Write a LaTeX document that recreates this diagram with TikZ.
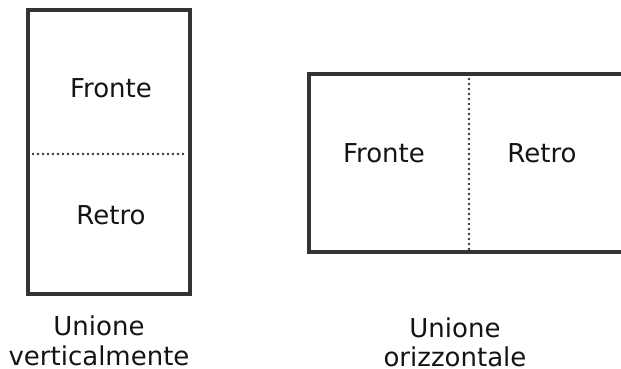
\documentclass[tikz,border=0pt]{standalone}
\usepackage{fontspec}
\setmainfont{DejaVu Sans}
\usepackage{xcolor}
\usetikzlibrary{calc}

\definecolor{framegray}{HTML}{333333}
\definecolor{textgray}{HTML}{141414}

\begin{document}
\begin{tikzpicture}[x=1pt,y=-1pt,line join=miter,
  frame/.style={line width=3.2pt,draw=framegray},
  fold/.style={line width=2.7pt,draw=framegray,line cap=round,dash pattern=on 0pt off 5pt},
  lbl/.style={text=textgray,font=\fontsize{26}{30}\selectfont,inner sep=0pt,anchor=base}]
  \useasboundingbox (0,0) rectangle (621,369);
  % vertical join
  \coordinate (VA) at (28,10);
  \coordinate (VB) at (190,294);
  \coordinate (VL) at (28,154);
  \coordinate (VR) at (190,154);
  \draw[frame] (VA) rectangle (VB);
  \draw[fold] ($(VL)+(5,0)$) -- ($(VR)+(-3,0)$);
  \node[lbl] (vfront) at (111,97) {Fronte};
  \node[lbl] (vback) at (111,224) {Retro};
  \node[lbl] (vcap1) at (99,335) {Unione};
  \node[lbl] (vcap2) at (99,365) {verticalmente};
  % horizontal join
  \coordinate (HA) at (309,74);
  \coordinate (HB) at (640,252);
  \coordinate (HT) at (469,74);
  \coordinate (HD) at (469,252);
  \draw[frame] (HA) rectangle (HB);
  \draw[fold] ($(HT)+(0,5)$) -- ($(HD)+(0,-3)$);
  \node[lbl] (hfront) at (384,162) {Fronte};
  \node[lbl] (hback) at (542,162) {Retro};
  \node[lbl] (hcap1) at (455,337) {Unione};
  \node[lbl] (hcap2) at (455,366) {orizzontale};
\end{tikzpicture}
\end{document}
